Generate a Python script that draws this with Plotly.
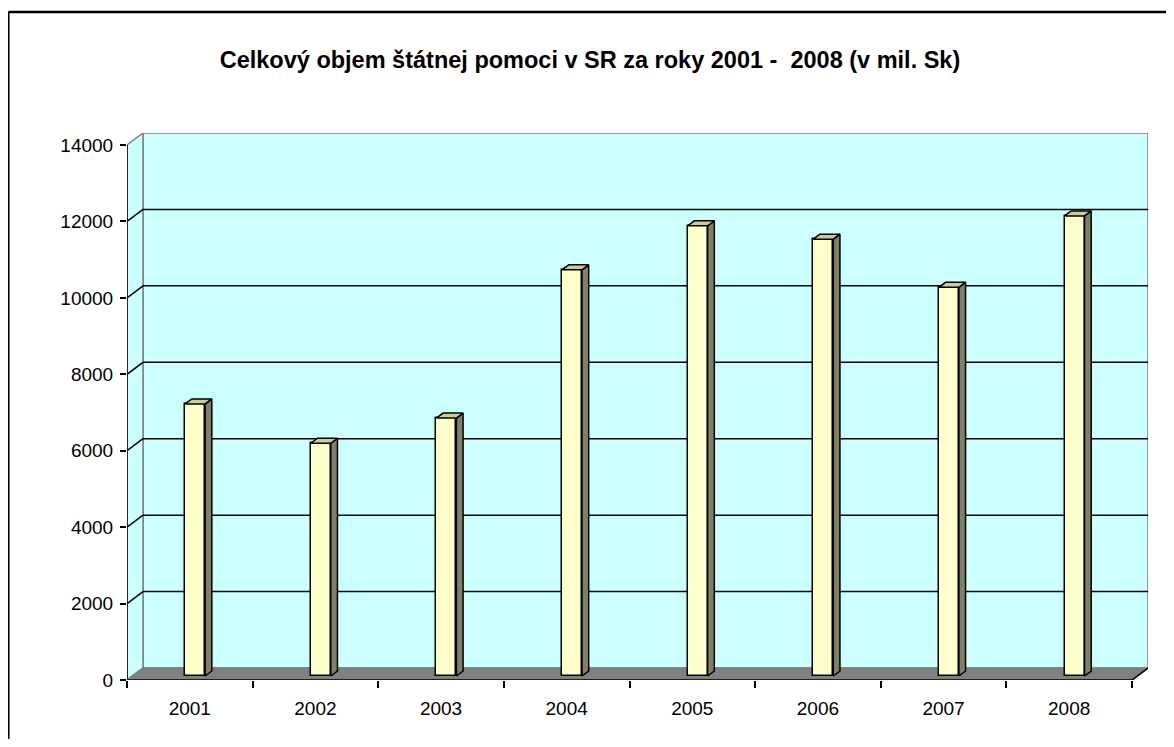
import plotly.graph_objects as go

# ---------------- data ----------------
years = ["2001", "2002", "2003", "2004", "2005", "2006", "2007", "2008"]
values = [7120, 6090, 6750, 10630, 11780, 11430, 10170, 12040]
y_ticks = [0, 2000, 4000, 6000, 8000, 10000, 12000, 14000]
y_tick_text = [str(v) for v in y_ticks]
title_text = "Celkový objem štátnej pomoci v SR za roky 2001 -  2008 (v mil. Sk)"

# ---------------- layout constants (page pixels) ----------------
W, H = 1174, 747
OFF = 8                        # default page body margin
FIG_W, FIG_H = W - 2 * OFF, H - 2 * OFF
PLOT_L, PLOT_R, PLOT_T, PLOT_B = 127, 1148, 133, 680
FRONT_TOP_PX = 145            # pixel of y = max tick on the front plane
DEPTH_X_PX, DEPTH_Y_PX = 16, 12
BAR_W_PX = 20
BAR_FRONT_FRAC = 4 / 12       # depth position of the bar's front face
BAR_DEPTH_FRAC = 5 / 12       # bar thickness as a fraction of full depth
BORDER_X, BORDER_Y = 8, 12
TITLE_CX, TITLE_CY = 590, 60

n = len(years)
YMAX = y_ticks[-1]
front_right_px = PLOT_R - DEPTH_X_PX
cat_px = (front_right_px - PLOT_L) / n
y_ppu = (PLOT_B - FRONT_TOP_PX) / YMAX

dxu = DEPTH_X_PX / cat_px
dyu = DEPTH_Y_PX / y_ppu
x_lo, x_hi = -0.5, n - 0.5
x_range = [x_lo, x_hi + dxu]
y_range = [0, YMAX + dyu]

CYAN = "#CCFFFF"
FLOOR = "#808080"
WALL_EDGE = "#808080"
BAR_FRONT = "#FFFFCC"
BAR_TOP = "#CCCC99"
BAR_SIDE = "#808066"

pw = PLOT_R - PLOT_L
ph = PLOT_B - PLOT_T
def px_to_paper_x(px):
    return (px - PLOT_L) / pw
def px_to_paper_y(py):
    return (PLOT_B - py) / ph

fig = go.Figure()

# ---------------- walls and floor (shapes below traces) ----------------
shapes = []
shapes.append(dict(type="rect", xref="x", yref="y", layer="below",
                   x0=x_lo + dxu, x1=x_hi + dxu, y0=dyu, y1=YMAX + dyu,
                   fillcolor=CYAN, line=dict(color=WALL_EDGE, width=1.5)))
shapes.append(dict(type="path", xref="x", yref="y", layer="below",
                   path=f"M {x_lo},0 L {x_lo},{YMAX} L {x_lo+dxu},{YMAX+dyu} L {x_lo+dxu},{dyu} Z",
                   fillcolor=CYAN, line=dict(color=WALL_EDGE, width=1.5)))
shapes.append(dict(type="path", xref="x", yref="y", layer="below",
                   path=f"M {x_lo},0 L {x_hi},0 L {x_hi+dxu},{dyu} L {x_lo+dxu},{dyu} Z",
                   fillcolor=FLOOR, line=dict(color=WALL_EDGE, width=1.5)))
for v in y_ticks:
    if 0 < v < YMAX:
        shapes.append(dict(type="line", xref="x", yref="y", layer="below",
                           x0=x_lo + dxu, x1=x_hi + dxu, y0=v + dyu, y1=v + dyu,
                           line=dict(color="black", width=1.5)))
        shapes.append(dict(type="line", xref="x", yref="y", layer="below",
                           x0=x_lo, x1=x_lo + dxu, y0=v, y1=v + dyu,
                           line=dict(color="black", width=1.5)))
shapes.append(dict(type="line", xref="x", yref="y", x0=x_lo, x1=x_hi, y0=0, y1=0,
                   line=dict(color="black", width=1.5)))
shapes.append(dict(type="line", xref="x", yref="y", x0=x_hi, x1=x_hi + dxu, y0=0, y1=dyu,
                   line=dict(color="black", width=1.5)))
shapes.append(dict(type="line", xref="x", yref="y", x0=x_lo, x1=x_lo, y0=0, y1=YMAX,
                   line=dict(color="black", width=1.5)))

# outer chart border: left and top edges only (the rest lies outside the window)
bx = px_to_paper_x(BORDER_X + 0.3)
by = px_to_paper_y(BORDER_Y)
shapes.append(dict(type="line", xref="paper", yref="paper",
                   x0=bx, x1=bx, y0=px_to_paper_y(OFF + FIG_H), y1=by,
                   line=dict(color="black", width=2.5)))
shapes.append(dict(type="line", xref="paper", yref="paper",
                   x0=bx, x1=px_to_paper_x(OFF + FIG_W), y0=by, y1=by,
                   line=dict(color="black", width=2.5)))

# ---------------- bars ----------------
bar_wu = BAR_W_PX / cat_px
shift_x = BAR_FRONT_FRAC * dxu
base_y = BAR_FRONT_FRAC * dyu
bdx = BAR_DEPTH_FRAC * dxu
bdy = BAR_DEPTH_FRAC * dyu
xs = [i + shift_x for i in range(n)]

sx, sy = [], []
for xc, v in zip(xs, values):
    r = xc + bar_wu / 2
    sx += [r, r + bdx, r + bdx, r, r, None]
    sy += [base_y, base_y + bdy, base_y + v + bdy, base_y + v, base_y, None]
fig.add_trace(go.Scatter(x=sx, y=sy, mode="lines", fill="toself", fillcolor=BAR_SIDE,
                         line=dict(color="black", width=1.5), hoverinfo="skip",
                         showlegend=False))
tx, ty = [], []
for xc, v in zip(xs, values):
    l, r = xc - bar_wu / 2, xc + bar_wu / 2
    t = base_y + v
    tx += [l, l + bdx, r + bdx, r, l, None]
    ty += [t, t + bdy, t + bdy, t, t, None]
fig.add_trace(go.Scatter(x=tx, y=ty, mode="lines", fill="toself", fillcolor=BAR_TOP,
                         line=dict(color="black", width=1.5), hoverinfo="skip",
                         showlegend=False))
fig.add_trace(go.Bar(x=xs, y=values, base=[base_y] * n, width=bar_wu,
                     marker=dict(color=BAR_FRONT, line=dict(color="black", width=1.5)),
                     showlegend=False))

fig.update_layout(
    width=FIG_W, height=FIG_H,
    margin=dict(l=PLOT_L - OFF, r=FIG_W - (PLOT_R - OFF), t=PLOT_T - OFF,
                b=FIG_H - (PLOT_B - OFF), pad=0),
    paper_bgcolor="white", plot_bgcolor="rgba(0,0,0,0)",
    font=dict(family="Liberation Sans, Arial, sans-serif", color="black", size=19),
    title=dict(text=f"<b>{title_text}</b>", x=px_to_paper_x(TITLE_CX), xref="paper",
               xanchor="center", y=1 - (TITLE_CY - OFF) / FIG_H, yanchor="middle",
               font=dict(size=23.5)),
    shapes=shapes,
    showlegend=False,
    bargap=0,
)
fig.update_xaxes(range=x_range, showgrid=False, zeroline=False, showline=False,
                 tickmode="array", tickvals=list(range(n)), ticktext=years, ticks="",
                 ticklabelstandoff=15,
                 minor=dict(tick0=-0.5, dtick=1, ticks="outside", ticklen=7,
                            tickcolor="black", tickwidth=1.5, showgrid=False))
fig.update_yaxes(range=y_range, showgrid=False, zeroline=False, showline=False,
                 tickmode="array", tickvals=y_ticks, ticktext=y_tick_text,
                 ticks="outside", ticklen=6,
                 tickcolor="black", tickwidth=1.5, ticklabelstandoff=3)

fig.write_html("out.html")
